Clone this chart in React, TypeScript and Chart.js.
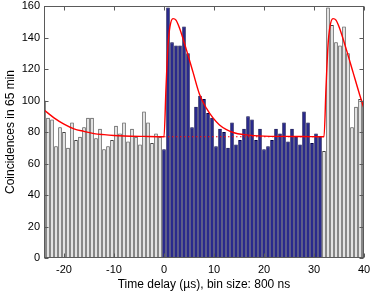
import React, { useEffect, useRef } from "react";
import { Chart, registerables } from "chart.js";

Chart.register(...registerables);

// Histogram (bin size 0.8 µs), counts
const binWidth = 0.8;
const firstBinCenter = -24; // centre of the first (left) bin, µs
const grayLeftCounts = [
  100, 89, 88, 71, 83, 80, 70, 86, 75, 77, 83, 89, 89, 76, 82,
  69, 71, 75, 84, 79, 86, 74, 82, 77, 72, 93, 86, 73, 79, 77,
];
const blueCounts = [
  69, 159, 137, 135, 135, 147, 130, 83, 96, 103, 101, 92, 89, 71, 82,
  80, 70, 86, 72, 75, 82, 90, 88, 75, 82, 69, 71, 75, 82, 79,
  86, 74, 82, 77, 72, 93, 86, 73, 79, 77,
];
const grayRightCounts = [68, 159, 148, 137, 135, 147, 130, 83, 96, 101, 100];

// Fitted curve (red)
const fitX = [
  -24, -22, -20, -18, -16, -14, -12, -10, -8, -4, 0,
  0.4, 0.8, 1.2, 1.8, 2.4, 3.1, 4.5, 5.8, 7.1, 8.5, 9.8, 11.1, 12.5, 14, 16, 18, 20, 24, 28, 32,
  32.4, 32.8, 33.2, 33.8, 34.4, 35.1, 36.5, 37.8, 39.1, 40,
];
const fitY = [
  94, 89, 85, 82, 80.4, 79, 78.3, 77.8, 77.5, 77.2, 77,
  108, 135, 147, 152, 151, 146, 132, 118, 104, 95, 89, 84.5, 81.5, 79.5, 78.3, 77.7, 77.4, 77.2, 77.1, 77,
  108, 135, 147, 152, 151, 146, 132, 118, 104, 95,
];
// Background level (dotted red) across the blue window
const baselineX = [0, 32];
const baselineY = [77, 77];

const xTicks = [-20, -10, 0, 10, 20, 30, 40];
const yTicks = [0, 20, 40, 60, 80, 100, 120, 140, 160];

const FONT = "'Liberation Sans', Arial, Helvetica, sans-serif";

const framePlugin = {
  id: "matlabFrame",
  afterDatasetsDraw(chart: any) {
    const { ctx, chartArea: a, scales } = chart;
    ctx.save();
    ctx.strokeStyle = "#5a5a5a";
    ctx.lineWidth = 1;
    const L = Math.round(a.left) + 0.5;
    const R = Math.round(a.right) - 0.5;
    const T = Math.round(a.top) + 0.5;
    const B = Math.round(a.bottom) - 0.5;
    ctx.strokeRect(L, T, R - L, B - T);
    const len = 4;
    ctx.beginPath();
    scales.x.ticks.forEach((t: any) => {
      const px = Math.round(scales.x.getPixelForValue(t.value)) + 0.5;
      ctx.moveTo(px, B);
      ctx.lineTo(px, B - len);
      ctx.moveTo(px, T);
      ctx.lineTo(px, T + len);
    });
    scales.y.ticks.forEach((t: any) => {
      const py = Math.round(scales.y.getPixelForValue(t.value)) + 0.5;
      ctx.moveTo(L, py);
      ctx.lineTo(L + len, py);
      ctx.moveTo(R, py);
      ctx.lineTo(R - len, py);
    });
    ctx.stroke();
    ctx.restore();
  },
};

export default function App() {
  const ref = useRef<HTMLCanvasElement | null>(null);

  useEffect(() => {
    document.body.style.margin = "0";
    const canvas = ref.current;
    if (!canvas) return;

    const allCounts = [...grayLeftCounts, ...blueCounts, ...grayRightCounts];
    const barData = allCounts.map((y, i) => ({ x: firstBinCenter + i * binWidth, y }));
    const nLeft = grayLeftCounts.length;
    const nBlue = blueCounts.length;
    const isBlue = (i: number) => i >= nLeft && i < nLeft + nBlue;

    const chart = new Chart(canvas, {
      type: "bar",
      data: {
        datasets: [
          {
            type: "line",
            data: fitX.map((x, i) => ({ x, y: fitY[i] })),
            borderColor: "#ff0000",
            borderWidth: 1.4,
            pointRadius: 0,
            cubicInterpolationMode: "monotone",
            fill: false,
            order: 0,
            clip: 0,
          } as any,
          {
            type: "line",
            data: baselineX.map((x, i) => ({ x, y: baselineY[i] })),
            borderColor: "#ff0000",
            borderWidth: 1.2,
            borderDash: [1.5, 2.5],
            pointRadius: 0,
            fill: false,
            order: 1,
          } as any,
          {
            type: "bar",
            data: barData,
            backgroundColor: (c: any) => (isBlue(c.dataIndex) ? "#00007a" : "#e6e6e6"),
            borderColor: (c: any) => (isBlue(c.dataIndex) ? "#000045" : "#444444"),
            borderWidth: 1,
            barPercentage: 0.9,
            categoryPercentage: 1,
            order: 2,
            clip: 0,
          } as any,
        ],
      },
      options: {
        responsive: false,
        animation: false,
        devicePixelRatio: 1,
        layout: { padding: { top: 6, right: 10, left: 0, bottom: 0 } },
        plugins: { legend: { display: false }, tooltip: { enabled: false } },
        scales: {
          x: {
            type: "linear",
            min: -24,
            max: 40,
            offset: false,
            afterBuildTicks: (s: any) => {
              s.ticks = xTicks.map((v) => ({ value: v }));
            },
            afterFit: (s: any) => {
              s.height = 36;
              s.paddingLeft = 0;
              s.paddingRight = 0;
            },
            grid: { display: false, drawTicks: false, offset: false },
            border: { display: false },
            ticks: {
              color: "#000",
              font: { family: FONT, size: 11 },
              padding: 5,
              maxRotation: 0,
              autoSkip: false,
            },
            title: {
              display: true,
              text: "Time delay (\u00b5s), bin size: 800 ns",
              color: "#000",
              font: { family: FONT, size: 12 },
              padding: { top: 0, bottom: 2 },
            },
          },
          y: {
            type: "linear",
            min: 0,
            max: 160,
            afterBuildTicks: (s: any) => {
              s.ticks = yTicks.map((v) => ({ value: v }));
            },
            afterFit: (s: any) => {
              s.width = 44;
              s.paddingTop = 0;
              s.paddingBottom = 0;
            },
            grid: { display: false, drawTicks: false },
            border: { display: false },
            ticks: {
              color: "#000",
              font: { family: FONT, size: 11 },
              padding: 4,
              autoSkip: false,
            },
            title: {
              display: true,
              text: "Coincidences in 65 min",
              color: "#000",
              font: { family: FONT, size: 12 },
              padding: { top: 3, bottom: 0 },
            },
          },
        },
      },
      plugins: [framePlugin],
    });

    return () => chart.destroy();
  }, []);

  return (
    <canvas
      ref={ref}
      width={374}
      height={294}
      style={{ display: "block", width: 374, height: 294 }}
    />
  );
}
